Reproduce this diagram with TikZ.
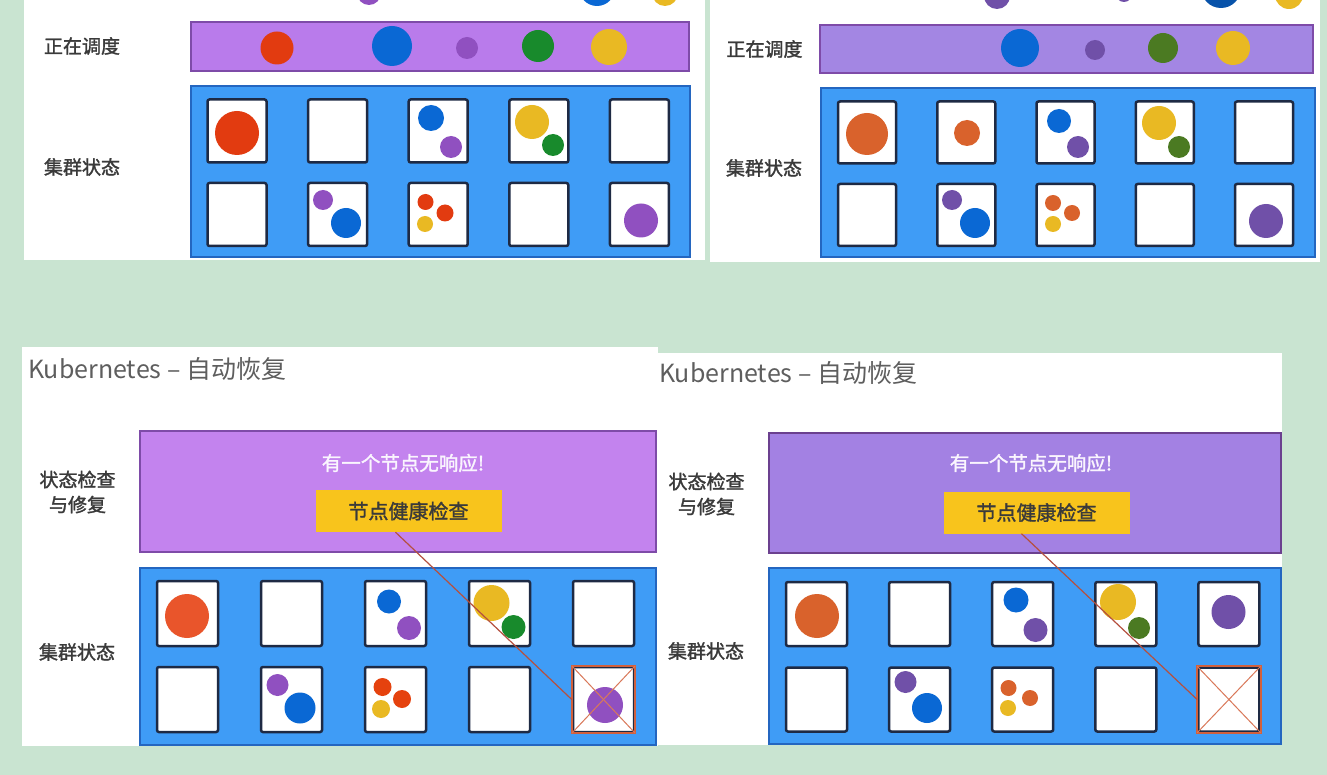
\documentclass[tikz,border=0pt]{standalone}
\usepackage{fontspec}
\setmainfont{Noto Sans CJK SC}
\newfontfamily\heavyfont{Noto Sans CJK SC}[FakeBold=1.6]
\usepackage{tikz}
\usetikzlibrary{positioning}
\definecolor{bggreen}{HTML}{C9E4D1}
\definecolor{slotnavy}{HTML}{1E2A44}
\definecolor{clblue}{HTML}{3F9CF6}
\definecolor{clborder}{HTML}{2466C0}
\definecolor{barpurple}{HTML}{B97BEB}
\definecolor{barpurpleR}{HTML}{A386E3}
\definecolor{barborder}{HTML}{7E4BA8}
\definecolor{chkpurple}{HTML}{C383EE}
\definecolor{chkpurpleR}{HTML}{A381E3}
\definecolor{chkyellow}{HTML}{F8C41C}
\definecolor{podred}{HTML}{E23B10}
\definecolor{podorange}{HTML}{E9552B}
\definecolor{podorangeR}{HTML}{D9622C}
\definecolor{podblue}{HTML}{0A68D4}
\definecolor{podpurple}{HTML}{9050C0}
\definecolor{podpurpleR}{HTML}{7050A8}
\definecolor{podgreen}{HTML}{188A2C}
\definecolor{podgreenR}{HTML}{4B7A22}
\definecolor{podyellow}{HTML}{E9B923}
\definecolor{deadred}{HTML}{D2603C}
\definecolor{probered}{HTML}{B5503F}
\definecolor{labelgrey}{HTML}{3A3A3A}
\definecolor{titlegrey}{HTML}{5E5E5E}

\begin{document}
\begin{tikzpicture}[
  x=1pt, y=-1pt,
  rowlabel/.style={text=labelgrey, align=center, inner sep=0, font=\heavyfont\fontsize{19pt}{25pt}\selectfont},
  pagetitle/.style={anchor=west, text=titlegrey, inner sep=0, font=\fontsize{25pt}{29pt}\selectfont},
  bar/.style={draw=barborder, line width=1.5pt, inner sep=0},
  cluster/.style={fill=clblue, draw=clborder, line width=1.5pt, inner sep=0},
  slot/.style={fill=white, draw=slotnavy, line width=2.5pt, rounded corners=2pt, inner sep=0},
  pod/.style={circle, fill=#1, draw=none, inner sep=0},
  check/.style={fill=chkyellow, text=labelgrey, inner sep=0, minimum width=186pt, minimum height=42pt, font=\heavyfont\fontsize{20pt}{24pt}\selectfont},
  alert/.style={text=white!92!chkpurple, inner sep=0, font=\heavyfont\fontsize{19.5pt}{24pt}\selectfont},
  dead/.style={draw=deadred, line width=2pt},
  cross/.style={draw=deadred!85!white, line width=1pt},
  probe/.style={draw=probered, line width=1.2pt}
]
\useasboundingbox (0,0) rectangle (1327,775);
\clip (0,0) rectangle (1327,775);
\fill[bggreen] (0,0) rectangle (1327,775);

% Slide panels
\fill[white] (24,-5) rectangle (705,260);
\fill[white] (710,-5) rectangle (1320,262);
\fill[white] (22,347) rectangle (658,746);
\fill[white] (657,353) rectangle (1282,745);

%%% Top left: scheduling
\node[pod=podpurple, minimum size=24pt] (tl_in1) at (369,-7) {};
\node[pod=podblue, minimum size=36pt] (tl_in2) at (597,-12) {};
\node[pod=podyellow, minimum size=26pt] (tl_in3) at (665,-7) {};

\node[rowlabel] (tl_lab1) at (82,46) {正在调度};
\node[rowlabel] (tl_lab2) at (82,167) {集群状态};
\node[bar, fill=barpurple, minimum width=498pt, minimum height=49pt] (tl_bar) at (440,46.5) {};
\node[pod=podred, minimum size=33pt] (tl_q1) at (277,48) {};
\node[pod=podblue, minimum size=40pt] (tl_q2) at (392,46) {};
\node[pod=podpurple, minimum size=22pt] (tl_q3) at (467,48) {};
\node[pod=podgreen, minimum size=32pt] (tl_q4) at (538,46) {};
\node[pod=podyellow, minimum size=36pt] (tl_q5) at (609,47) {};

\node[cluster, minimum width=499pt, minimum height=171pt] (tl_cl) at (440.5,171.5) {};
\foreach \c in {1,...,5}
  \foreach \r in {1,2}
    \node[slot, minimum width=59pt, minimum height=63pt] (tl_r\r c\c) at ({237+(\c-1)*100.6},{131+(\r-1)*83.5}) {};
\node[pod=podred, minimum size=44pt] (tl_p1) at (237,133) {};
\node[pod=podblue, minimum size=26pt] (tl_p2) at (431,118) {};
\node[pod=podpurple, minimum size=22pt] (tl_p3) at (451,147) {};
\node[pod=podyellow, minimum size=34pt] (tl_p4) at (532,122) {};
\node[pod=podgreen, minimum size=22pt] (tl_p5) at (553,145) {};
\node[pod=podpurple, minimum size=20pt] (tl_p6) at (323,200) {};
\node[pod=podblue, minimum size=30pt] (tl_p7) at (346,223) {};
\node[pod=podred, minimum size=16pt] (tl_p8) at (425.5,202) {};
\node[pod=podred, minimum size=17pt] (tl_p9) at (445,213) {};
\node[pod=podyellow, minimum size=16pt] (tl_p10) at (425,224) {};
\node[pod=podpurple, minimum size=34pt] (tl_p11) at (641,220.5) {};

%%% Top right: scheduling, one pod placed
\node[pod=podpurpleR, minimum size=26pt] (tr_in1) at (997,-4) {};
\node[pod=podpurpleR, minimum size=16pt] (tr_in2) at (1124,-6) {};
\node[pod=podblue!80!black, minimum size=40pt] (tr_in3) at (1221,-12) {};
\node[pod=podyellow, minimum size=28pt] (tr_in4) at (1289,-5) {};

\node[rowlabel] (tr_lab1) at (764.5,49) {正在调度};
\node[rowlabel] (tr_lab2) at (764,168) {集群状态};
\node[bar, fill=barpurpleR, minimum width=493pt, minimum height=48pt] (tr_bar) at (1066.5,49) {};
\node[pod=podblue, minimum size=38pt] (tr_q1) at (1020,48) {};
\node[pod=podpurpleR, minimum size=20pt] (tr_q2) at (1095,50) {};
\node[pod=podgreenR, minimum size=30pt] (tr_q3) at (1163,48) {};
\node[pod=podyellow, minimum size=34pt] (tr_q4) at (1233,48) {};

\node[cluster, minimum width=494pt, minimum height=169pt] (tr_cl) at (1068,172.5) {};
\foreach \c in {1,...,5}
  \foreach \r in {1,2}
    \node[slot, minimum width=58pt, minimum height=62pt] (tr_r\r c\c) at ({867+(\c-1)*99.25},{132.5+(\r-1)*82.5}) {};
\node[pod=podorangeR, minimum size=42pt] (tr_p1) at (867,134) {};
\node[pod=podorangeR, minimum size=26pt] (tr_p2) at (967,133) {};
\node[pod=podblue, minimum size=24pt] (tr_p3) at (1059,121) {};
\node[pod=podpurpleR, minimum size=22pt] (tr_p4) at (1078,147) {};
\node[pod=podyellow, minimum size=34pt] (tr_p5) at (1159,123) {};
\node[pod=podgreenR, minimum size=22pt] (tr_p6) at (1179,147) {};
\node[pod=podpurpleR, minimum size=20pt] (tr_p7) at (952,200) {};
\node[pod=podblue, minimum size=30pt] (tr_p8) at (975,223) {};
\node[pod=podorangeR, minimum size=16pt] (tr_p9) at (1053,203) {};
\node[pod=podorangeR, minimum size=16pt] (tr_p10) at (1072,213) {};
\node[pod=podyellow, minimum size=16pt] (tr_p11) at (1053,224) {};
\node[pod=podpurpleR, minimum size=34pt] (tr_p12) at (1266,221) {};

%%% Bottom left: node fails
\node[pagetitle] (bl_title) at (28,369) {Kubernetes – 自动恢复};
\node[rowlabel] (bl_lab1) at (77.5,492) {状态检查\\与修复};
\node[rowlabel] (bl_lab2) at (77,652) {集群状态};
\node[bar, fill=chkpurple, minimum width=516pt, minimum height=121pt] (bl_box) at (398,491.5) {};
\node[alert] (bl_alert) at (403,463) {有一个节点无响应!};
\node[check] (bl_check) at (408.5,511) {节点健康检查};

\node[cluster, minimum width=516pt, minimum height=177pt] (bl_cl) at (398,656.5) {};
\foreach \c in {1,...,5}
  \foreach \r in {1,2}
    \node[slot, minimum width=61pt, minimum height=65pt] (bl_r\r c\c) at ({187.5+(\c-1)*104},{613.5+(\r-1)*86}) {};
\node[pod=podorange, minimum size=44pt] (bl_p1) at (187,616) {};
\node[pod=podblue, minimum size=24pt] (bl_p2) at (389,601.5) {};
\node[pod=podpurple, minimum size=24pt] (bl_p3) at (409,628) {};
\node[pod=podyellow, minimum size=36pt] (bl_p4) at (491.5,603) {};
\node[pod=podgreen, minimum size=24pt] (bl_p5) at (513.5,627) {};
\node[pod=podpurple, minimum size=22pt] (bl_p6) at (277.5,685) {};
\node[pod=podblue, minimum size=31pt] (bl_p7) at (300,708) {};
\node[pod=podred!90!orange, minimum size=18pt] (bl_p8) at (382.5,687) {};
\node[pod=podred!90!orange, minimum size=18pt] (bl_p9) at (402,699) {};
\node[pod=podyellow, minimum size=18pt] (bl_p10) at (381,709) {};
% failed node
\draw[dead] (bl_r2c5.north west) rectangle (bl_r2c5.south east);
\node[pod=podpurple, minimum size=36pt] (bl_p11) at (605,705) {};
\draw[cross] (bl_r2c5.north west) -- (bl_r2c5.south east);
\draw[cross] (bl_r2c5.south west) -- (bl_r2c5.north east);
\draw[probe] ([xshift=-13pt]bl_check.south) -- (bl_r2c5.west);

%%% Bottom right: pod moved away
\node[pagetitle] (br_title) at (659,373) {Kubernetes – 自动恢复};
\node[rowlabel] (br_lab1) at (706.5,494) {状态检查\\与修复};
\node[rowlabel] (br_lab2) at (706,651) {集群状态};
\node[bar, fill=chkpurpleR, draw=barborder!85!black, minimum width=512pt, minimum height=120pt] (br_box) at (1025,493) {};
\node[alert] (br_alert) at (1031,463) {有一个节点无响应!};
\node[check] (br_check) at (1036.5,512.5) {节点健康检查};

\node[cluster, minimum width=512pt, minimum height=176pt] (br_cl) at (1025,656) {};
\foreach \c in {1,...,5}
  \foreach \r in {1,2}
    \node[slot, minimum width=61pt, minimum height=64pt] (br_r\r c\c) at ({816.5+(\c-1)*103.1},{614+(\r-1)*85.5}) {};
\node[pod=podorangeR, minimum size=44pt] (br_p1) at (817,616) {};
\node[pod=podblue, minimum size=25pt] (br_p2) at (1016,600) {};
\node[pod=podpurpleR, minimum size=24pt] (br_p3) at (1035.5,630) {};
\node[pod=podyellow, minimum size=36pt] (br_p4) at (1118,602) {};
\node[pod=podgreenR, minimum size=22pt] (br_p5) at (1139,628) {};
\node[pod=podpurpleR, minimum size=34pt] (br_p6) at (1228.5,612) {};
\node[pod=podpurpleR, minimum size=22pt] (br_p7) at (905.5,682) {};
\node[pod=podblue, minimum size=30pt] (br_p8) at (927,708) {};
\node[pod=podorangeR, minimum size=16pt] (br_p9) at (1008.5,688) {};
\node[pod=podorangeR, minimum size=16pt] (br_p10) at (1030,698) {};
\node[pod=podyellow, minimum size=16pt] (br_p11) at (1008,708) {};
% failed node, now empty
\draw[dead] (br_r2c5.north west) rectangle (br_r2c5.south east);
\draw[cross] (br_r2c5.north west) -- (br_r2c5.south east);
\draw[cross] (br_r2c5.south west) -- (br_r2c5.north east);
\draw[probe] ([xshift=-15pt]br_check.south) -- (br_r2c5.west);
\end{tikzpicture}
\end{document}
